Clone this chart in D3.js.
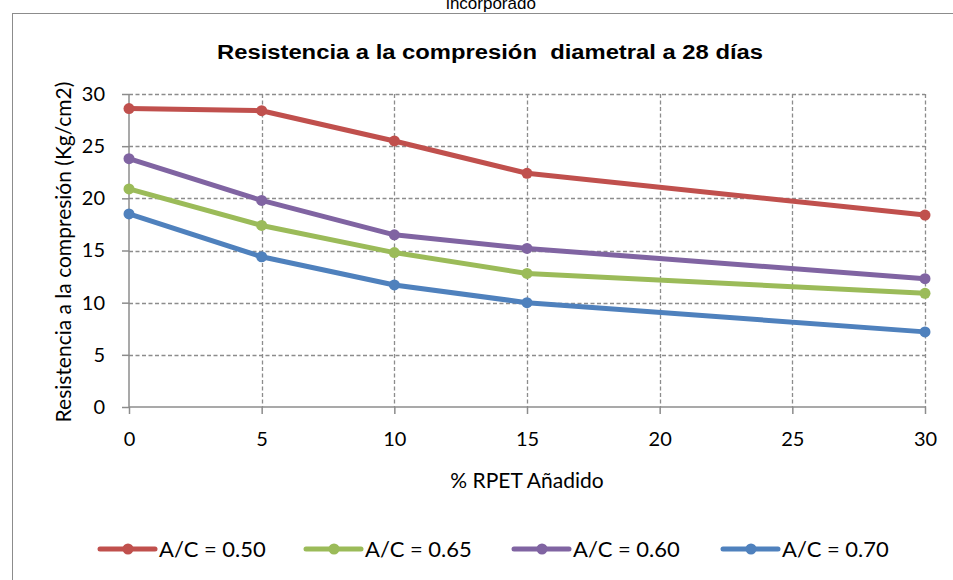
<!DOCTYPE html>
<html>
<head>
<meta charset="utf-8">
<script src="https://cdn.jsdelivr.net/npm/d3@7"></script>
<style>
  body { margin: 0; background: #fff; }
  svg text { font-family: Lato, "Open Sans", sans-serif; }
</style>
</head>
<body>
<div id="chart"></div>
<script>
// data
const xValues = [0, 5, 10, 15, 30];
const xTicks = [0, 5, 10, 15, 20, 25, 30];
const yTicks = [0, 5, 10, 15, 20, 25, 30];
const seriesNames = ['A/C = 0.50', 'A/C = 0.65', 'A/C = 0.60', 'A/C = 0.70'];
const seriesColors = ['#c0504d', '#9bbb59', '#8064a2', '#4f81bd'];
const ac050 = [28.6, 28.4, 25.5, 22.4, 18.4];
const ac065 = [20.9, 17.4, 14.8, 12.8, 10.9];
const ac060 = [23.8, 19.8, 16.5, 15.2, 12.3];
const ac070 = [18.5, 14.4, 11.7, 10.0, 7.2];
const seriesValues = [ac050, ac065, ac060, ac070];

const svg = d3.select('#chart').append('svg')
  .attr('width', 953)
  .attr('height', 580);

// outer chart frame
svg.append('rect')
  .attr('x', 12.5).attr('y', 13.5)
  .attr('width', 952).attr('height', 600)
  .attr('fill', 'none')
  .attr('stroke', '#8c8c8c');

// caption of the page behind the chart (cut at the top, as in the scan)
svg.append('text')
  .attr('x', 491).attr('y', 9)
  .attr('text-anchor', 'middle')
  .style('font-family', 'Liberation Sans, Arial, sans-serif')
  .style('font-size', '17px')
  .text('incorporado');

svg.append('text')
  .attr('x', 490).attr('y', 59)
  .attr('text-anchor', 'middle')
  .attr('textLength', 546)
  .attr('lengthAdjust', 'spacingAndGlyphs')
  .style('font-family', 'Liberation Sans, Arial, sans-serif')
  .style('font-size', '20px')
  .style('font-weight', 'bold')
  .style('white-space', 'pre')
  .text('Resistencia a la compresión  diametral a 28 días');

const margin = { top: 94, left: 129, right: 28, bottom: 173 };
const width = 953 - margin.left - margin.right;
const height = 580 - margin.top - margin.bottom;

const x = d3.scaleLinear().domain([0, 30]).range([0, width]);
const y = d3.scaleLinear().domain([0, 30]).range([height, 0]);

const g = svg.append('g')
  .attr('transform', `translate(${margin.left}, ${margin.top})`);

// grid
g.selectAll('.hgrid')
  .data(yTicks.filter(d => d > 0))
  .enter().append('line')
    .attr('x1', 0).attr('x2', width)
    .attr('y1', d => Math.round(y(d)) + 0.5).attr('y2', d => Math.round(y(d)) + 0.5)
    .attr('stroke', '#8c8c8c')
    .attr('stroke-width', 1.3)
    .attr('stroke-dasharray', '4,2.5');

g.selectAll('.vgrid')
  .data(xTicks.filter(d => d > 0))
  .enter().append('line')
    .attr('y1', 0).attr('y2', height)
    .attr('x1', d => Math.round(x(d)) + 0.5).attr('x2', d => Math.round(x(d)) + 0.5)
    .attr('stroke', '#8c8c8c')
    .attr('stroke-width', 1.3)
    .attr('stroke-dasharray', '4,2.5');

// axes
const xAxis = g.append('g')
  .attr('transform', `translate(0, ${height})`)
  .call(d3.axisBottom(x).tickValues(xTicks).tickSize(7).tickPadding(18));
const yAxis = g.append('g')
  .call(d3.axisLeft(y).tickValues(yTicks).tickSize(7).tickPadding(17));

[xAxis, yAxis].forEach((ax) => {
  ax.select('.domain').attr('stroke', '#8c8c8c').attr('stroke-width', 1.5);
  ax.selectAll('.tick line').attr('stroke', '#8c8c8c').attr('stroke-width', 1.5);
  ax.selectAll('.tick text')
    .style('font-size', '20px')
    .style('font-family', 'Lato, "Open Sans", sans-serif')
    .attr('fill', '#000');
});
yAxis.select('.domain').attr('d', `M0,${height}V0`);
xAxis.select('.domain').attr('d', `M0,0H${width}`);

// axis titles
svg.append('text')
  .attr('x', 527).attr('y', 488)
  .attr('text-anchor', 'middle')
  .style('font-size', '21px')
  .text('% RPET Añadido');

svg.append('text')
  .attr('transform', 'translate(71, 252) rotate(-90)')
  .attr('text-anchor', 'middle')
  .style('font-size', '21px')
  .text('Resistencia a la compresión (Kg/cm2)');

// series
const line = d3.line()
  .x((d, i) => x(xValues[i]))
  .y(d => y(d));

const series = g.selectAll('.series')
  .data(seriesValues)
  .enter().append('g')
    .attr('class', 'series');

series.append('path')
  .attr('d', d => line(d))
  .attr('fill', 'none')
  .attr('stroke', (d, i) => seriesColors[i])
  .attr('stroke-width', 5)
  .attr('stroke-linejoin', 'round');

series.each(function (vals, si) {
  d3.select(this).selectAll('circle')
    .data(vals)
    .enter().append('circle')
      .attr('cx', (d, i) => x(xValues[i]))
      .attr('cy', d => y(d))
      .attr('r', 5.5)
      .attr('fill', seriesColors[si]);
});

// legend
const legendX = [100, 306, 514, 723];
const legend = svg.selectAll('.legend')
  .data(seriesNames)
  .enter().append('g')
    .attr('transform', (d, i) => `translate(${legendX[i]}, 549)`);

legend.append('line')
  .attr('x1', 0).attr('x2', 55)
  .attr('stroke', (d, i) => seriesColors[i])
  .attr('stroke-width', 5)
  .attr('stroke-linecap', 'round');
legend.append('circle')
  .attr('cx', 28).attr('r', 5.5)
  .attr('fill', (d, i) => seriesColors[i]);
legend.append('text')
  .attr('x', 59).attr('y', 8)
  .style('font-size', '22px')
  .text(d => d);
</script>
</body>
</html>
